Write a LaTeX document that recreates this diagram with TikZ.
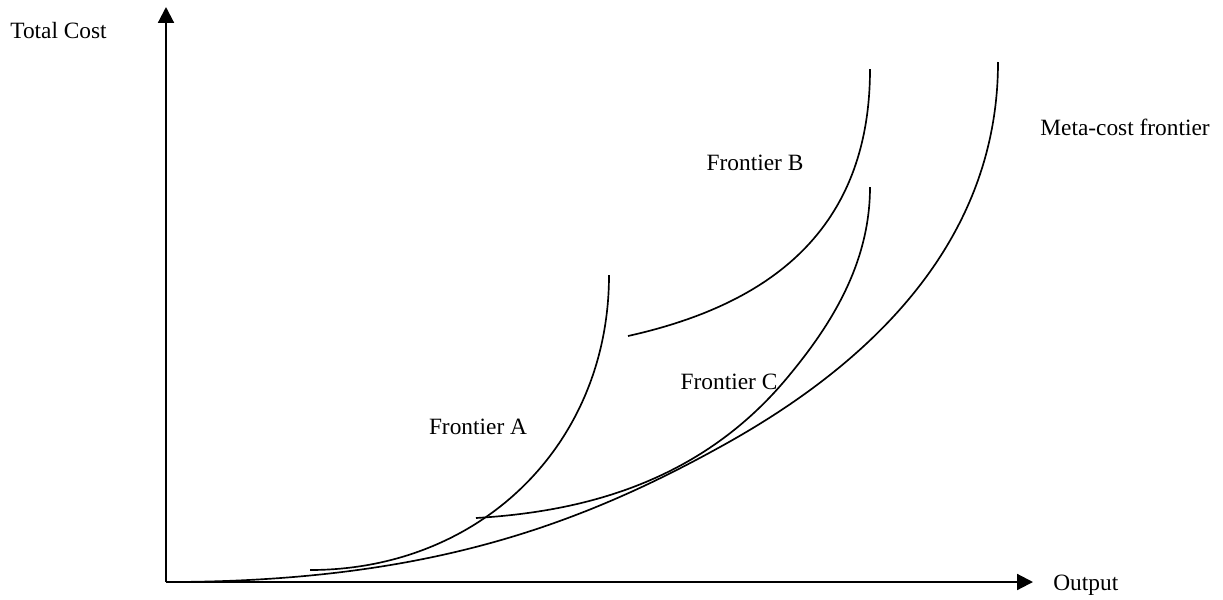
\documentclass[tikz,border=0pt]{standalone}
\usepackage{fontspec}
\setmainfont{Liberation Serif}
\usepackage{tikz}
\usetikzlibrary{arrows.meta,positioning}
\tikzstyle{axis} = [line width=1.2pt,-{Triangle[length=9pt,width=9pt]}]
\tikzstyle{frontier} = [line width=0.95pt]
\tikzstyle{lbl} = [font=\fontsize{13.3}{16}\selectfont,inner sep=0pt]

\begin{document}
\begin{tikzpicture}[x=0.02cm,y=-0.02cm]
		\useasboundingbox (0,0) rectangle (1223,599);
		\coordinate (O) at (166,582);
		\coordinate (ytop) at (166,7);
		\coordinate (xend) at (1033,582);
		\draw[axis] (O) to (ytop);
		\draw[axis] (O) to (xend);
		
		\node[lbl,anchor=west] (cost) at (10,31) {Total Cost};
		\node[lbl,anchor=west] (out) at (1053,585) {Output};
		\node[lbl,anchor=west] (meta) at (1040,127) {Meta-cost frontier};
		\node[lbl] (fa) at (478,427) {Frontier A};
		\node[lbl] (fb) at (755,163) {Frontier B};
		\node[lbl] (fc) at (729,382) {Frontier C};
		
		% frontiers
		\draw[frontier] (310,570) .. controls (480,570) and (609,445) .. (609,275);
		\draw[frontier] (628,336) .. controls (758,307) and (870,239) .. (870,69);
		\draw[frontier] (476,518) .. controls (576,512) and (697,486) .. (787,378) .. controls (827,330) and (870,267) .. (870,187);
		\draw[frontier] (O) .. controls (417,582) and (570,530) .. (720,447) .. controls (840,381) and (998,262) .. (998,62);
	\end{tikzpicture}
\end{document}
